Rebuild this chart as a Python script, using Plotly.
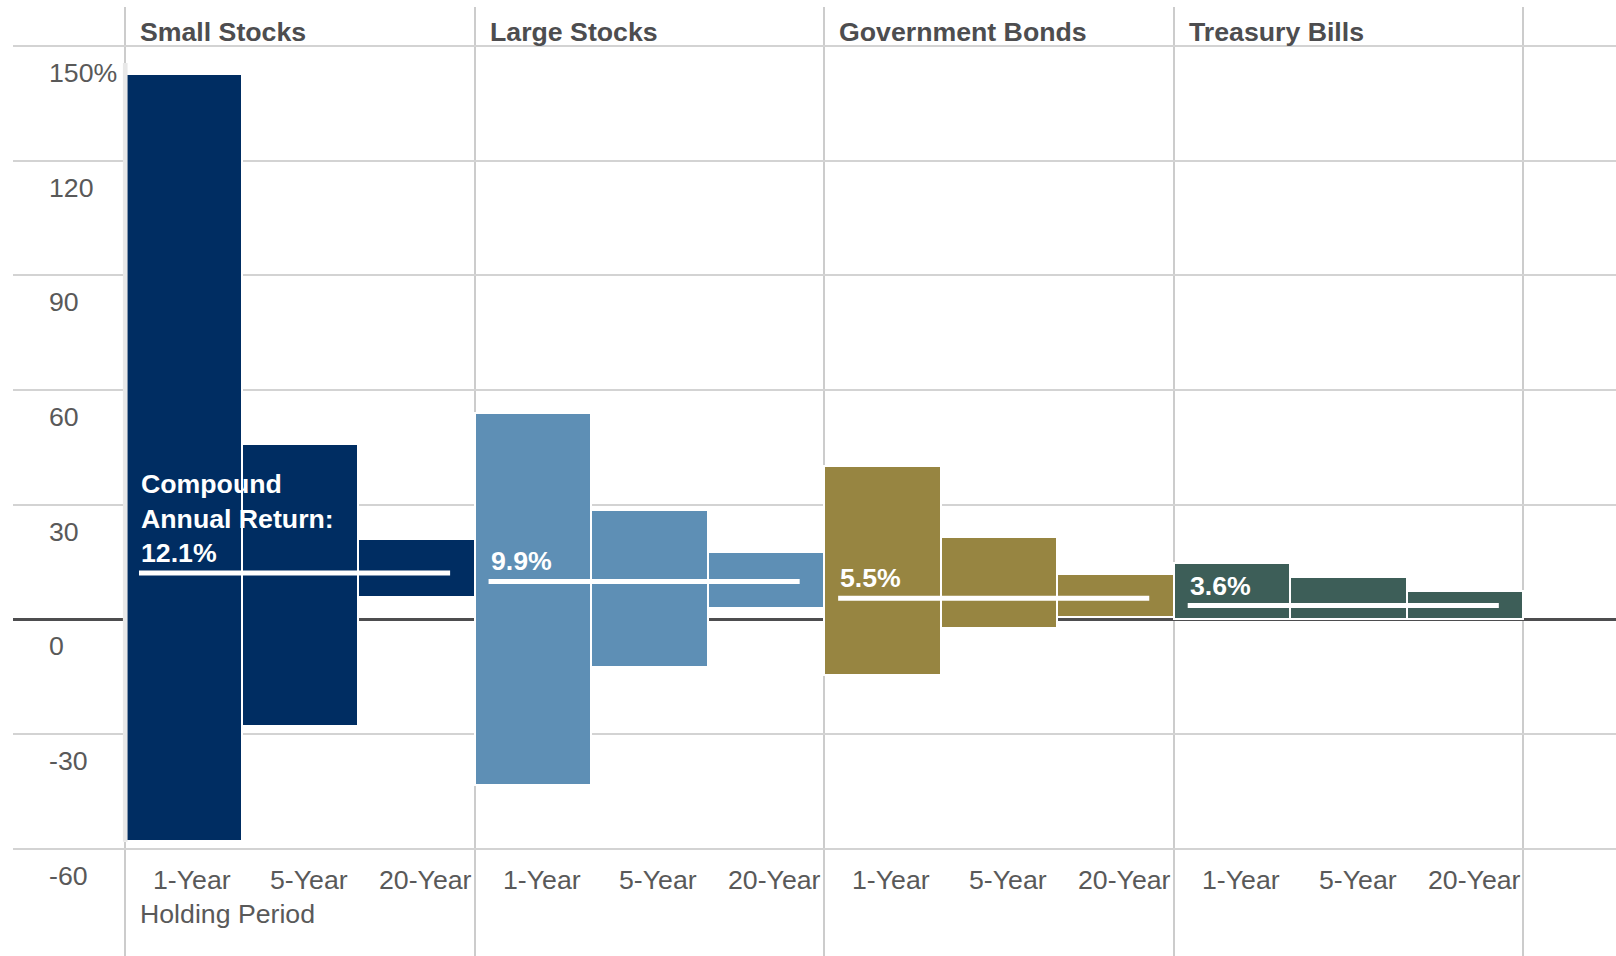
import plotly.graph_objects as go

# Asset classes (panels) and holding periods (bars within each panel)
asset_classes = ["Small Stocks", "Large Stocks", "Government Bonds", "Treasury Bills"]
holding_periods = ["1-Year", "5-Year", "20-Year"]

# Range of annualized returns (%) for each holding period: highest and lowest
small_stocks_high = [142.6, 45.9, 21.0]
small_stocks_low = [-58.0, -28.0, 5.9]
large_stocks_high = [53.9, 28.6, 17.7]
large_stocks_low = [-43.3, -12.4, 3.0]
gov_bonds_high = [40.1, 21.5, 11.9]
gov_bonds_low = [-14.7, -2.2, 0.6]
tbills_high = [14.6, 11.1, 7.4]
tbills_low = [0.0, 0.0, 0.0]

# Compound annual return (%) per asset class
compound_returns = [12.1, 9.9, 5.5, 3.6]

# Y-axis ticks
y_tick_values = [150, 120, 90, 60, 30, 0, -30, -60]
y_tick_text = ["150%", "120", "90", "60", "30", "0", "-30", "-60"]

colors = ["#002D62", "#5E8FB5", "#978541", "#3D5E58"]
highs = [small_stocks_high, large_stocks_high, gov_bonds_high, tbills_high]
lows = [small_stocks_low, large_stocks_low, gov_bonds_low, tbills_low]

FONT = "Liberation Sans, Arial, Helvetica, sans-serif"
FS = 26.7
LABEL_GRAY = "#595959"
HEAD_GRAY = "#4D4D4F"

fig = go.Figure()

n_per = len(holding_periods)
for p, name in enumerate(asset_classes):
    xs = [p * n_per + i + 0.5 for i in range(n_per)]
    fig.add_trace(go.Bar(
        x=xs,
        y=[h - l for h, l in zip(highs[p], lows[p])],
        base=lows[p],
        width=1.0,
        marker=dict(color=colors[p], line=dict(color="white", width=2)),
        name=name,
        showlegend=False,
        hoverinfo="skip",
    ))

# Compound annual return markers
for p, cr in enumerate(compound_returns):
    x0 = p * n_per
    fig.add_trace(go.Scatter(
        x=[x0 + 0.12, x0 + 2.79],
        y=[cr, cr],
        mode="lines",
        line=dict(color="white", width=5),
        showlegend=False,
        hoverinfo="skip",
    ))
    text = f"{cr}%"
    if p == 0:
        text = f"Compound<br>Annual Return:<br>{cr}%"
    fig.add_annotation(
        x=x0 + 0.12, y=cr, xref="x", yref="y",
        text=text, showarrow=False, align="left",
        xanchor="left", yanchor="bottom", yshift=3,
        font=dict(family=FONT, size=FS, color="white", weight="bold"),
    )

# Panel headers
for p, name in enumerate(asset_classes):
    fig.add_annotation(
        x=p * n_per, y=0.9737, xref="x", yref="paper",
        text=f"<b>{name}</b>", showarrow=False,
        xanchor="left", yanchor="middle", xshift=13,
        font=dict(family=FONT, size=FS, color=HEAD_GRAY),
    )

# Holding period labels
for p in range(len(asset_classes)):
    for i, hp in enumerate(holding_periods):
        fig.add_annotation(
            x=p * n_per + i + 0.5, y=0.0801, xref="x", yref="paper",
            text=hp, showarrow=False, xanchor="center", yanchor="middle",
            xshift=9,
            font=dict(family=FONT, size=FS, color=LABEL_GRAY),
        )

fig.add_annotation(
    x=0, y=0.0443, xref="x", yref="paper",
    text="Holding Period", showarrow=False, xanchor="left", yanchor="middle",
    xshift=13,
    font=dict(family=FONT, size=FS, color=LABEL_GRAY),
)

# Y tick labels, set just below their gridlines
for v, t in zip(y_tick_values, y_tick_text):
    fig.add_annotation(
        x=0.0215, y=v, xref="paper", yref="y",
        text=t, showarrow=False, xanchor="left", yanchor="middle",
        yshift=-27,
        font=dict(family=FONT, size=FS, color=LABEL_GRAY),
    )

# Thin light strip along the left edge of the first panel
fig.add_shape(
    type="rect", xref="x", yref="y",
    x0=-0.018, x1=0.022, y0=-58.2, y1=145.5,
    fillcolor="#E8E8E8", line=dict(width=0), layer="above",
)

fig.update_layout(
    width=1616, height=956,
    margin=dict(l=13, r=0, t=7, b=0),
    paper_bgcolor="white", plot_bgcolor="white",
    bargap=0,
    font=dict(family=FONT),
    xaxis=dict(
        range=[-0.9612, 12.7955],
        tickvals=[0, 3, 6, 9, 12],
        showticklabels=False,
        showgrid=True, gridcolor="#CCCCCC", gridwidth=1.5,
        zeroline=False, showline=False, ticks="",
        fixedrange=True,
    ),
    yaxis=dict(
        range=[-88.07, 160.15],
        tickvals=y_tick_values,
        showticklabels=False,
        showgrid=True, gridcolor="#D3D3D3", gridwidth=1.5,
        zeroline=True, zerolinecolor="#4D4D4F", zerolinewidth=3,
        showline=False, ticks="",
        fixedrange=True,
    ),
)

fig.write_html("out.html")
